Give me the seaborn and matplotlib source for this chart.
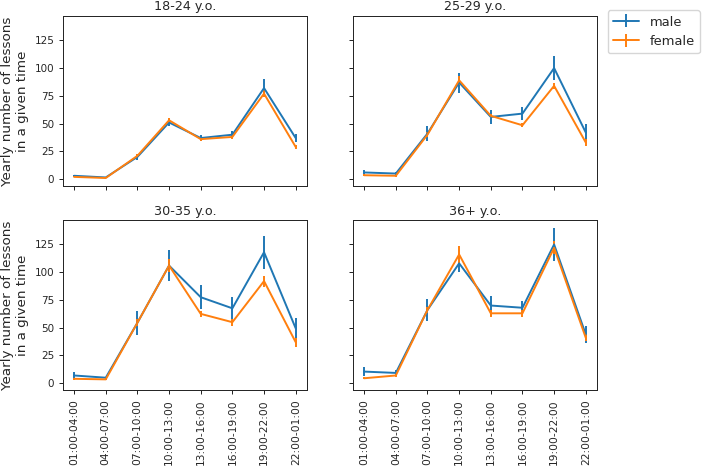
import matplotlib
matplotlib.use("Agg")
import matplotlib.pyplot as plt
import seaborn as sns
import numpy as np

sns.set_style("ticks")
plt.rcParams['font.family'] = ['DejaVu Sans']
s = 0.9
plt.rcParams.update({
    'font.size': 9.4,
    'axes.titlesize': 9.2,
    'axes.labelsize': 9.7,
    'xtick.labelsize': 7.7,
    'ytick.labelsize': 7.5,
    'legend.fontsize': 9.4,
    'axes.linewidth': 0.8 * s,
    'xtick.major.size': 3.5 * s,
    'ytick.major.size': 3.5 * s,
    'xtick.major.width': 0.8 * s,
    'ytick.major.width': 0.8 * s,
    'xtick.major.pad': 3.5 * s,
    'ytick.major.pad': 3.5 * s,
    'axes.titlepad': 4,
    'axes.labelpad': 4 * s,
})

time_slots = ["01:00-04:00", "04:00-07:00", "07:00-10:00", "10:00-13:00",
              "13:00-16:00", "16:00-19:00", "19:00-22:00", "22:00-01:00"]
age_groups = ["18-24 y.o.", "25-29 y.o.", "30-35 y.o.", "36+ y.o."]

male_18_24 = [3, 1.5, 20, 51, 37, 40, 82, 37]
male_18_24_err = [1, 0.5, 3, 3, 3, 3, 8, 4]
female_18_24 = [2, 1, 21, 53, 36, 38, 77, 29]
female_18_24_err = [0.5, 0.3, 1.5, 2, 1.5, 1.5, 3, 2]

male_25_29 = [6, 5, 41, 87, 56, 59, 100, 42]
male_25_29_err = [2, 1.5, 7, 9, 6, 6, 11, 8]
female_25_29 = [3.5, 3, 40, 89, 57, 48.5, 84, 33]
female_25_29_err = [1, 1, 2, 4, 2, 2, 3, 3]

male_30_35 = [7, 5, 54.5, 106, 77.5, 67.5, 118, 49.5]
male_30_35_err = [3, 1, 11, 14, 11, 10, 15, 9]
female_30_35 = [4, 3.5, 54.5, 106, 62.5, 55, 92, 37]
female_30_35_err = [1, 0.5, 3, 6, 3, 3, 5, 4]

male_36 = [10.5, 9.3, 66, 108, 70, 68, 125, 44]
male_36_err = [4, 3, 10, 8, 9, 6, 15, 8]
female_36 = [4.5, 7, 66, 116, 63, 63, 122, 41]
female_36_err = [1, 1, 3, 8, 3, 3, 6, 3]

male = [male_18_24, male_25_29, male_30_35, male_36]
male_err = [male_18_24_err, male_25_29_err, male_30_35_err, male_36_err]
female = [female_18_24, female_25_29, female_30_35, female_36]
female_err = [female_18_24_err, female_25_29_err, female_30_35_err, female_36_err]

colors = sns.color_palette("tab10")

fig, axes = plt.subplots(2, 2, figsize=(7.08, 4.69), dpi=100, sharex=True, sharey=True)
fig.subplots_adjust(left=0.089, right=0.843, top=0.966, bottom=0.168, wspace=0.19, hspace=0.2)

x = np.arange(len(time_slots))
for i, ax in enumerate(axes.flat):
    ax.errorbar(x, male[i], yerr=male_err[i], color=colors[0], label="male", lw=1.4)
    ax.errorbar(x, female[i], yerr=female_err[i], color=colors[1], label="female", lw=1.4)
    ax.set_title(age_groups[i])
    ax.set_xticks(x)
    ax.set_xticklabels(time_slots, rotation=90)
    ax.set_yticks([0, 25, 50, 75, 100, 125])
    for sp in ax.spines.values():
        sp.set_visible(True)

for ax in axes[:, 0]:
    ax.set_ylabel("Yearly number of lessons\nin a given time")

handles, labels = axes[0, 0].get_legend_handles_labels()
fig.legend(handles, labels, loc="upper right", bbox_to_anchor=(0.998, 0.992))

fig.savefig("out.png", dpi=100)
